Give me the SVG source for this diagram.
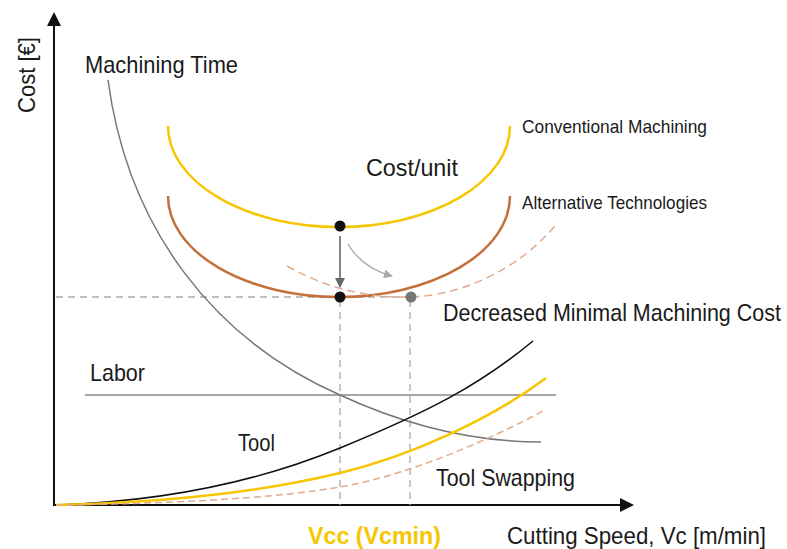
<svg xmlns="http://www.w3.org/2000/svg" width="787" height="549" viewBox="0 0 787 549">
<style>
text{font-family:"Liberation Sans Narrow","Liberation Sans",Arial,sans-serif;fill:#1a1a1a}
.l{font-size:24px}
.s{font-size:19px}
.ax{stroke:#111;stroke-width:2;fill:none}
.guide{stroke:#aaa;stroke-width:1.3;stroke-dasharray:7,5;fill:none}
</style>
<defs>
<marker id="ah" viewBox="0 0 10 10" refX="9" refY="5" markerWidth="10" markerHeight="10" markerUnits="userSpaceOnUse" orient="auto"><path d="M0,0 L10,5 L0,10 Z" fill="#666"/></marker>
<marker id="ah2" viewBox="0 0 10 10" refX="9" refY="5" markerWidth="9" markerHeight="9" markerUnits="userSpaceOnUse" orient="auto"><path d="M0,0 L10,5 L0,10 Z" fill="#aaa"/></marker>
</defs>
<g id="axes">
<line class="ax" x1="54" y1="506" x2="54" y2="24"/>
<path d="M54,12 L47,26 L61,26 Z" fill="#111"/>
<line class="ax" x1="53" y1="505" x2="622" y2="505"/>
<path d="M634,505 L620,498 L620,512 Z" fill="#111"/>
</g>
<g id="connectors">
<line class="guide" x1="56" y1="297" x2="410" y2="297"/>
<line class="guide" x1="340" y1="300" x2="340" y2="505"/>
<line class="guide" x1="410" y1="300" x2="410" y2="505"/>
<line x1="85" y1="395" x2="556" y2="395" stroke="#888" stroke-width="1.5"/>
<path d="M108,80 C128,230 215,340 340,395 C420,432 490,442 541,442" fill="none" stroke="#777" stroke-width="1.5"/>
<path d="M56,505 C150,502 250,485 340,448 C430,411 480,385 533,341" fill="none" stroke="#111" stroke-width="1.6"/>
<path d="M56,505 C180,502 270,490 340,473 C410,456 490,420 546,378" fill="none" stroke="#F7C600" stroke-width="2.5"/>
<path d="M56,505 C200,503 280,497 340,487 C400,477 480,445 543,411" fill="none" stroke="#E2AB8C" stroke-width="1.5" stroke-dasharray="7,4"/>
<path d="M168,126 A171,101 0 0 0 510,126" fill="none" stroke="#F7C600" stroke-width="2.5"/>
<path d="M168,196 A171,101 0 0 0 510,196" fill="none" stroke="#C4703A" stroke-width="2.5"/>
<path d="M287,266 C330,290 370,298 410,297 C460,296 520,270 558,222" fill="none" stroke="#E2AB8C" stroke-width="1.5" stroke-dasharray="8,5"/>
<line x1="340" y1="236" x2="340" y2="287" stroke="#666" stroke-width="1.6" marker-end="url(#ah)"/>
<path d="M348,244 Q362,268 392,276" fill="none" stroke="#aaa" stroke-width="1.4" marker-end="url(#ah2)"/>
</g>
<g id="points">
<circle cx="340" cy="226" r="5.5" fill="#111"/>
<circle cx="340" cy="297" r="5.5" fill="#111"/>
<circle cx="411" cy="297" r="5.5" fill="#777"/>
</g>
<g id="labels">
<text class="l" transform="translate(35,75) rotate(-90)" text-anchor="middle" textLength="76" lengthAdjust="spacingAndGlyphs">Cost [€]</text>
<text class="l" x="85" y="73" textLength="153" lengthAdjust="spacingAndGlyphs">Machining Time</text>
<text class="l" x="366" y="176" textLength="92" lengthAdjust="spacingAndGlyphs">Cost/unit</text>
<text class="s" x="522" y="133" textLength="185" lengthAdjust="spacingAndGlyphs">Conventional Machining</text>
<text class="s" x="522" y="209" textLength="185" lengthAdjust="spacingAndGlyphs">Alternative Technologies</text>
<text class="l" transform="translate(443,321) scale(0.86,1)" x="0" y="0" textLength="393" lengthAdjust="spacingAndGlyphs">Decreased Minimal Machining Cost</text>
<text class="l" x="90" y="381" textLength="55" lengthAdjust="spacingAndGlyphs">Labor</text>
<text class="l" x="238" y="451" textLength="37" lengthAdjust="spacingAndGlyphs">Tool</text>
<text class="l" x="436" y="486" textLength="139" lengthAdjust="spacingAndGlyphs">Tool Swapping</text>
<text x="308" y="544" font-size="24" font-weight="bold" style="fill:#F7C600" textLength="133" lengthAdjust="spacingAndGlyphs">Vcc (Vcmin)</text>
<text class="l" x="507" y="544" textLength="259" lengthAdjust="spacingAndGlyphs">Cutting Speed, Vc [m/min]</text>
</g>
</svg>
